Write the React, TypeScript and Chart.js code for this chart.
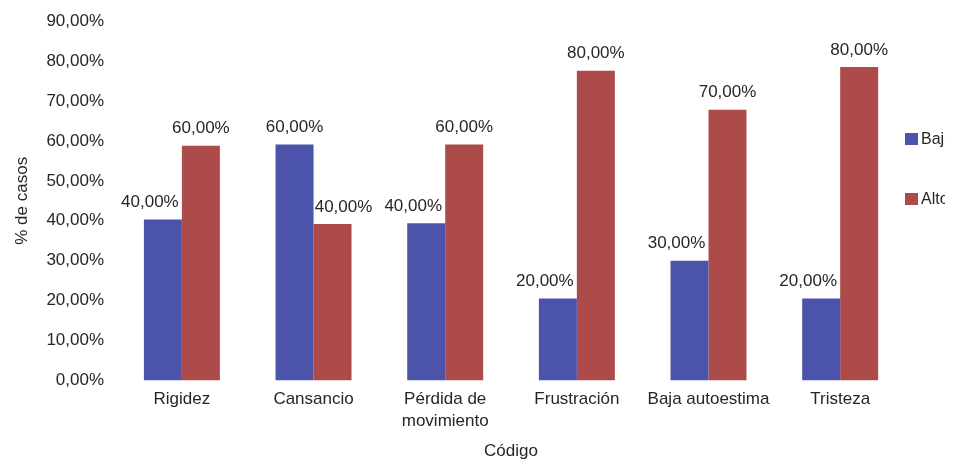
import React, { useEffect, useRef } from "react";
import { Chart, registerables } from "chart.js";

Chart.register(...registerables);

const categories: (string | string[])[] = [
  "Rigidez",
  "Cansancio",
  ["Pérdida de", "movimiento"],
  "Frustración",
  "Baja autoestima",
  "Tristeza",
];
const seriesNames = ["Bajo", "Alto"];
const bajoValues = [40.3, 59.1, 39.4, 20.5, 30.0, 20.5];
const altoValues = [58.8, 39.2, 59.1, 77.6, 67.8, 78.5];
const bajoLabels = ["40,00%", "60,00%", "40,00%", "20,00%", "30,00%", "20,00%"];
const altoLabels = ["60,00%", "40,00%", "60,00%", "80,00%", "70,00%", "80,00%"];
const yMin = 0;
const yMax = 90;
const yStep = 10;
const yTitle = "% de casos";
const xTitle = "Código";

const COLORS = ["#4b53ab", "#ad4b4b"];
const FONT = "'Liberation Sans', Arial, sans-serif";
const TEXT = "#262626";
const FS = 17;

const valueLabelsPlugin = {
  id: "valueLabels",
  afterDatasetsDraw(chart: any) {
    const ctx = chart.ctx;
    ctx.save();
    ctx.font = `${FS}px ${FONT}`;
    ctx.fillStyle = TEXT;
    ctx.textAlign = "center";
    ctx.textBaseline = "middle";
    chart.data.datasets.forEach((ds: any, di: number) => {
      const meta = chart.getDatasetMeta(di);
      const other = chart.data.datasets[1 - di];
      meta.data.forEach((bar: any, i: number) => {
        let dx = 0;
        if (other.data[i] > ds.data[i]) dx = di === 0 ? -13 : 11;
        ctx.fillText(ds.valueLabels[i], bar.x + dx, bar.y - 17);
      });
    });
    ctx.restore();
  },
};

export default function App() {
  const canvasRef = useRef<HTMLCanvasElement | null>(null);

  useEffect(() => {
    document.documentElement.style.overflow = "hidden";
    const canvas = canvasRef.current;
    if (!canvas) return;
    const chart = new Chart(canvas, {
      type: "bar",
      data: {
        labels: categories,
        datasets: [
          {
            label: seriesNames[0],
            data: bajoValues,
            backgroundColor: COLORS[0],
            valueLabels: bajoLabels,
            categoryPercentage: 0.577,
            barPercentage: 1.0,
          } as any,
          {
            label: seriesNames[1],
            data: altoValues,
            backgroundColor: COLORS[1],
            valueLabels: altoLabels,
            categoryPercentage: 0.577,
            barPercentage: 1.0,
          } as any,
        ],
      },
      options: {
        animation: false,
        responsive: true,
        maintainAspectRatio: false,
        layout: { padding: { top: 3, right: 47, left: 0, bottom: 0 } },
        plugins: {
          legend: { display: false },
          tooltip: { enabled: false },
        },
        scales: {
          x: {
            grid: { display: false, drawTicks: false },
            border: { display: false },
            ticks: {
              color: TEXT,
              font: { family: FONT, size: FS, lineHeight: 1.3 },
              padding: 8,
              maxRotation: 0,
              autoSkip: false,
            },
            title: {
              display: true,
              text: xTitle,
              color: TEXT,
              font: { family: FONT, size: FS },
              padding: { top: 1, bottom: 0 },
            },
          },
          y: {
            min: yMin,
            max: yMax,
            grid: { display: false, drawTicks: false },
            border: { display: false },
            ticks: {
              stepSize: yStep,
              color: TEXT,
              font: { family: FONT, size: FS },
              padding: 12,
              callback: (v: any) => Number(v).toFixed(2).replace(".", ",") + "%",
            },
            title: {
              display: true,
              text: yTitle,
              color: TEXT,
              font: { family: FONT, size: FS },
              padding: { top: 4, bottom: 2 },
            },
          },
        },
      },
      plugins: [valueLabelsPlugin],
    });
    return () => chart.destroy();
  }, []);

  return (
    <div style={{ width: 945, height: 451, position: "relative" }}>
      <div style={{ position: "absolute", left: 0, top: -9, width: 945, height: 463 }}>
        <canvas ref={canvasRef} />
      </div>
      {seriesNames.map((name, i) => (
        <div
          key={name}
          style={{
            position: "absolute",
            left: 897,
            top: 125 + i * 60,
            display: "flex",
            alignItems: "center",
            whiteSpace: "nowrap",
            fontFamily: FONT,
            fontSize: 16,
            color: TEXT,
            lineHeight: "12px",
          }}
        >
          <span style={{ display: "inline-block", width: 13, height: 12, background: COLORS[i], marginRight: 3 }} />
          <span>{name}</span>
        </div>
      ))}
    </div>
  );
}
